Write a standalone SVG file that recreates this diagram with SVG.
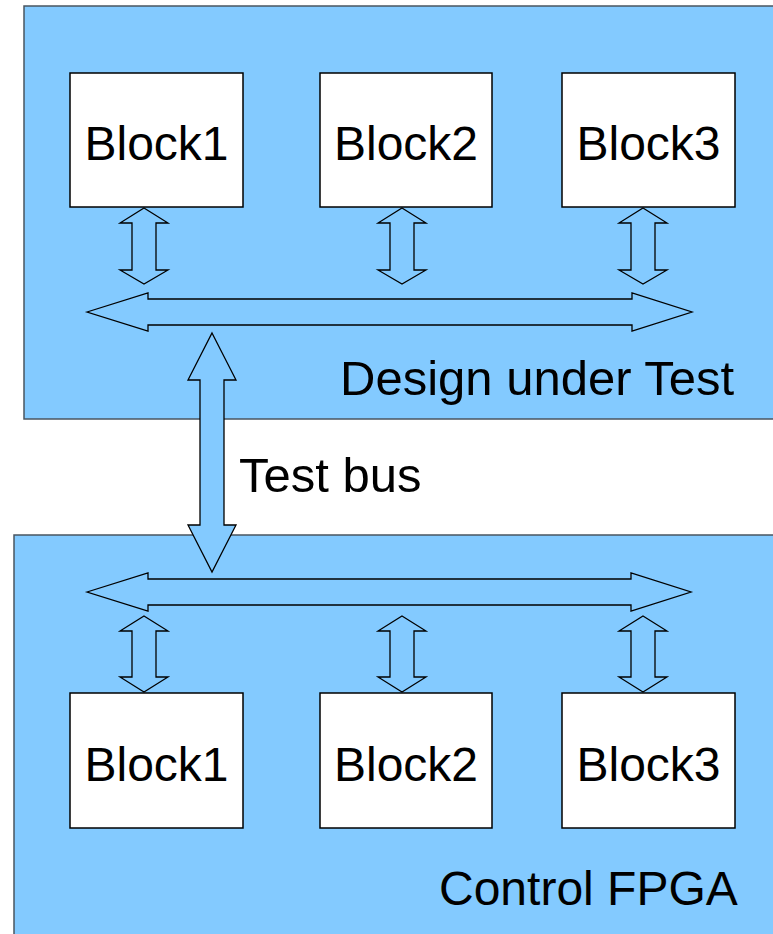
<svg xmlns="http://www.w3.org/2000/svg" width="773" height="934" viewBox="0 0 773 934">
  <style>
    .panel { fill: #83caff; stroke: #4a5560; stroke-width: 1.5; }
    .block rect { fill: #ffffff; stroke: #000000; stroke-width: 1.5; }
    .label { font-family: "Liberation Sans", Arial, sans-serif; font-size: 48px; fill: #000000; }
    .big { font-size: 49px; }
    .arrow { fill: #83caff; stroke: #000000; stroke-width: 1.3; stroke-linejoin: miter; }
  </style>

  <!-- Design under Test panel -->
  <g id="dut">
    <rect class="panel" x="24" y="6" width="760" height="413"/>
    <text class="label big" x="340" y="395">Design under Test</text>
  </g>

  <!-- Control FPGA panel -->
  <g id="fpga">
    <rect class="panel" x="14" y="535" width="770" height="410"/>
    <text class="label" x="439" y="905">Control FPGA</text>
  </g>

  <!-- Blocks inside the design under test -->
  <g id="dut-block1" class="block">
    <rect x="70" y="73" width="173" height="134"/>
    <text class="label" x="156.5" y="160" text-anchor="middle">Block1</text>
  </g>
  <g id="dut-block2" class="block">
    <rect x="320" y="73" width="172" height="134"/>
    <text class="label" x="406" y="160" text-anchor="middle">Block2</text>
  </g>
  <g id="dut-block3" class="block">
    <rect x="562" y="73" width="173" height="134"/>
    <text class="label" x="648.5" y="160" text-anchor="middle">Block3</text>
  </g>

  <!-- Blocks inside the control FPGA -->
  <g id="fpga-block1" class="block">
    <rect x="70" y="693" width="173" height="135"/>
    <text class="label" x="156.5" y="781" text-anchor="middle">Block1</text>
  </g>
  <g id="fpga-block2" class="block">
    <rect x="320" y="693" width="172" height="135"/>
    <text class="label" x="406" y="781" text-anchor="middle">Block2</text>
  </g>
  <g id="fpga-block3" class="block">
    <rect x="562" y="693" width="173" height="135"/>
    <text class="label" x="648.5" y="781" text-anchor="middle">Block3</text>
  </g>

  <!-- Bidirectional bus arrows -->
  <g id="connectors">
    <!-- block-to-bus links, design under test -->
    <path class="arrow" d="M144,208 L168,223 L156,223 L156,270 L168,270 L144,284 L120,270 L132,270 L132,223 L120,223 Z"/>
    <path class="arrow" d="M402,208 L426,223 L414,223 L414,270 L426,270 L402,284 L378,270 L390,270 L390,223 L378,223 Z"/>
    <path class="arrow" d="M643,208 L667,223 L655,223 L655,270 L667,270 L643,284 L619,270 L631,270 L631,223 L619,223 Z"/>

    <!-- internal bus, design under test -->
    <path class="arrow" d="M87,312 L148,293 L148,299 L632,299 L632,293 L692,312 L632,331 L632,325 L148,325 L148,331 Z"/>

    <!-- test bus between the two panels -->
    <path class="arrow" d="M212,333 L236,380 L224,380 L224,525 L236,525 L212,572 L188,525 L200,525 L200,380 L188,380 Z"/>
    <text class="label big" x="239" y="492">Test bus</text>

    <!-- internal bus, control FPGA -->
    <path class="arrow" d="M87,592 L148,573 L148,579 L631,579 L631,573 L691,592 L631,611 L631,605 L148,605 L148,611 Z"/>

    <!-- block-to-bus links, control FPGA -->
    <path class="arrow" d="M144,616 L168,631 L156,631 L156,677 L168,677 L144,692 L120,677 L132,677 L132,631 L120,631 Z"/>
    <path class="arrow" d="M402,616 L426,631 L414,631 L414,677 L426,677 L402,692 L378,677 L390,677 L390,631 L378,631 Z"/>
    <path class="arrow" d="M643,616 L667,631 L655,631 L655,677 L667,677 L643,692 L619,677 L631,677 L631,631 L619,631 Z"/>
  </g>
</svg>
